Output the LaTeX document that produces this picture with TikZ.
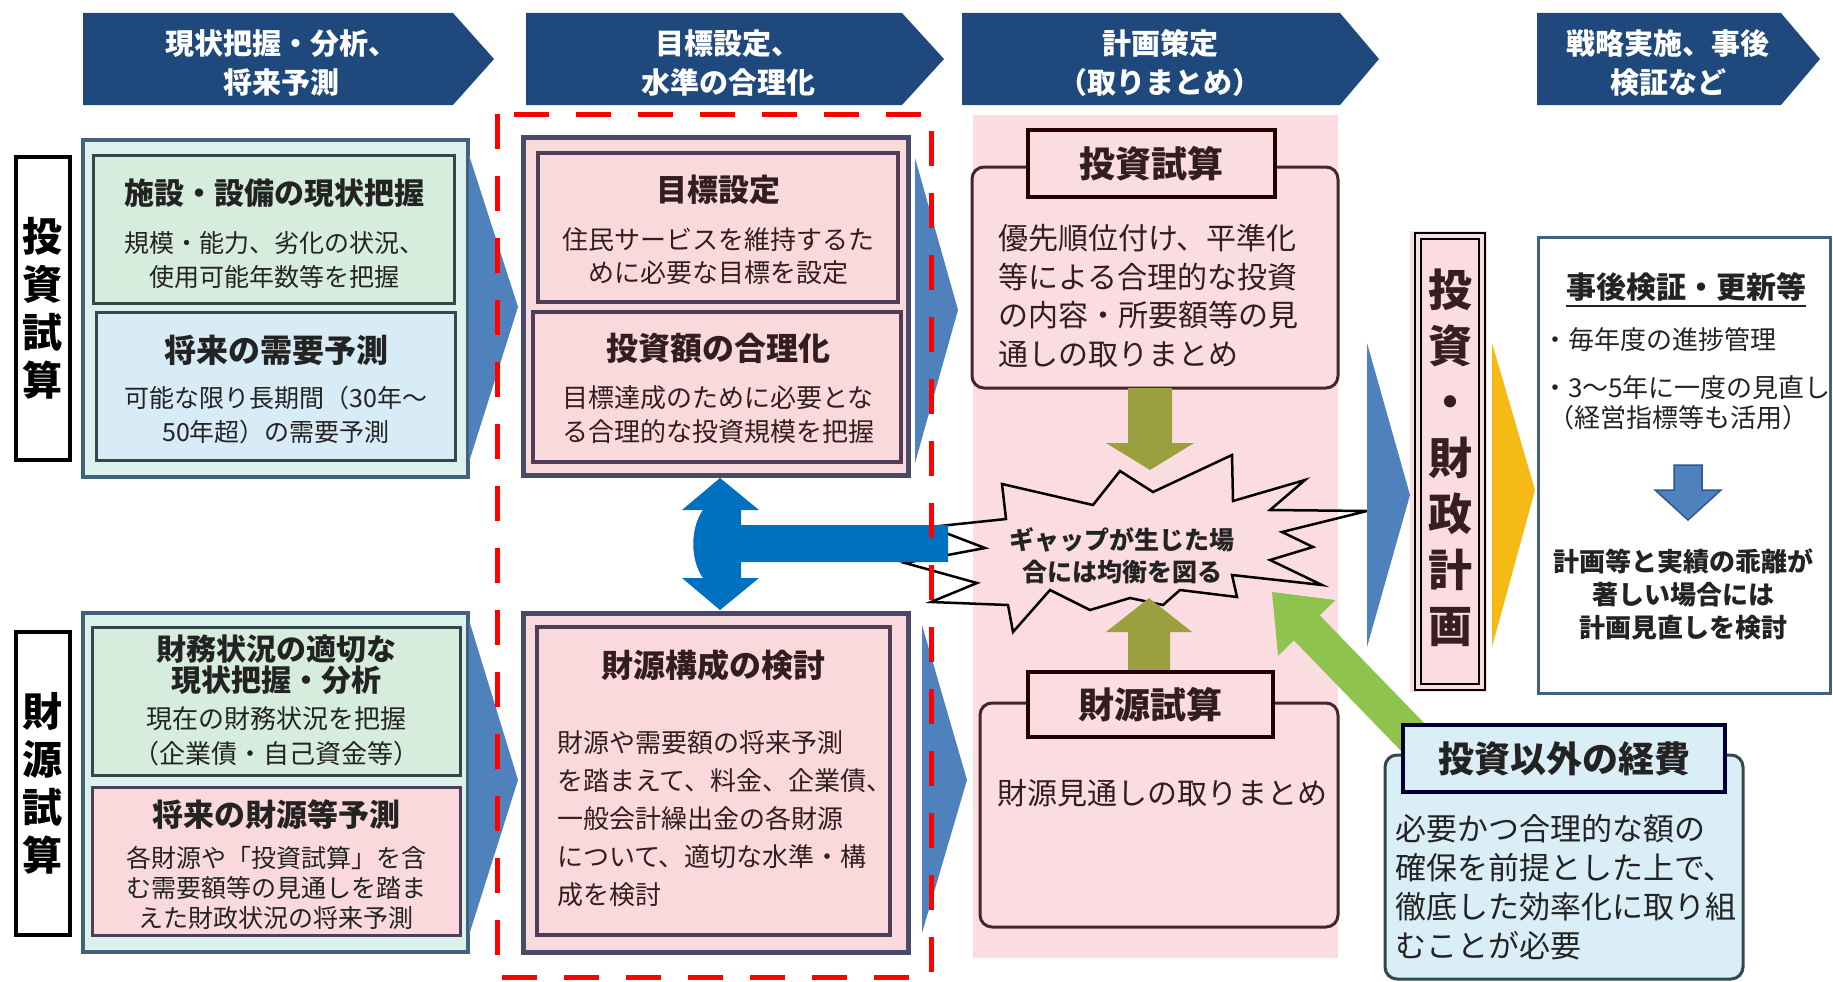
\documentclass[tikz,border=0pt]{standalone}
\usepackage{fontspec}
\setmainfont{Noto Sans CJK JP}
\usetikzlibrary{calc}
\definecolor{navy}{RGB}{31,73,125}
\definecolor{chev}{RGB}{79,129,189}
\definecolor{chevdark}{RGB}{47,85,151}
\definecolor{mint}{RGB}{221,241,236}
\definecolor{greenbox}{RGB}{214,237,222}
\definecolor{bluebox}{RGB}{216,236,247}
\definecolor{pinkbox}{RGB}{250,217,221}
\definecolor{panelpink}{RGB}{251,220,224}
\definecolor{slate}{RGB}{65,98,125}
\definecolor{dkgreen}{RGB}{48,74,76}
\definecolor{plum}{RGB}{78,62,88}
\definecolor{midborder}{RGB}{72,74,104}
\definecolor{maroon}{RGB}{70,38,44}
\definecolor{olive}{RGB}{155,160,62}
\definecolor{lgreen}{RGB}{142,196,78}
\definecolor{gold}{RGB}{246,186,22}
\definecolor{tblue}{RGB}{0,112,192}
\definecolor{lblue}{RGB}{218,238,248}
\definecolor{txtdark}{RGB}{35,35,35}
\definecolor{txtbrown}{RGB}{50,30,30}
\newcommand\fsz[2]{\fontsize{#1}{#2}\selectfont}
\newcommand\blockarrow[6]{%
  \coordinate (ba-base) at ($(#2)!#5!(#1)$);
  \fill[#6] ($(#1)!#3!90:(#2)$) -- ($(ba-base)!#3!90:(#2)$) -- ($(ba-base)!#4!90:(#2)$) -- (#2)
    -- ($(ba-base)!#4!-90:(#2)$) -- ($(ba-base)!#3!-90:(#2)$) -- ($(#1)!#3!-90:(#2)$) -- cycle;}
\tikzset{
  bx/.style={anchor=north west, inner sep=0pt, outer sep=0pt},
  tx/.style={inner sep=0pt, outer sep=0pt, align=center},
  hd/.style={tx, text=white, font=\fsz{29}{39}\bfseries},
}
\begin{document}
\begin{tikzpicture}[x=1pt,y=-1pt]
\useasboundingbox (0,0) rectangle (1833,982);
\fill[white] (0,0) rectangle (1833,982);

% ---------- header chevrons
\fill[navy] (83,13) -- (453,13) -- (494,59) -- (453,105) -- (83,105) -- cycle;
\fill[navy] (526,13) -- (902,13) -- (944,59) -- (902,105) -- (526,105) -- cycle;
\fill[navy] (962,13) -- (1340,13) -- (1379,59) -- (1340,105) -- (962,105) -- cycle;
\fill[navy] (1537,13) -- (1781,13) -- (1820,59) -- (1781,105) -- (1537,105) -- cycle;
\node[hd] (h1) at (281,63) {現状把握・分析、\\将来予測};
\node[hd] (h2) at (728,63) {目標設定、\\水準の合理化};
\node[hd] (h3) at (1160,63) {計画策定\\（取りまとめ）};
\node[hd] (h4) at (1668,63) {戦略実施、事後\\検証など};

% ---------- left labels
\node[bx, draw=black, line width=4.5, fill=white, minimum width=54, minimum height=303] (l1) at (16,157) {};
\node[tx, font=\fsz{40}{48}\bfseries] (l1t) at (l1.center) {投\\資\\試\\算};
\node[bx, draw=black, line width=4.5, fill=white, minimum width=54, minimum height=303] (l2) at (16,632) {};
\node[tx, font=\fsz{40}{48}\bfseries] (l2t) at (l2.center) {財\\源\\試\\算};

% ---------- left top group
\node[bx, draw=slate, line width=3.5, fill=mint, minimum width=385, minimum height=337] (g1) at (83,140) {};
\fill[chev] (469,155) -- (518,307) -- (469,462) -- cycle;
\node[bx, draw=dkgreen, line width=3, fill=greenbox, minimum width=361, minimum height=148] (A) at (93,155) {};
\node[bx, draw=dkgreen, line width=3, fill=bluebox, minimum width=359, minimum height=148] (B) at (96,312) {};
\node[tx, text=txtdark, font=\fsz{30}{36}\bfseries] (At) at (274,193) {施設・設備の現状把握};
\node[tx, text=txtdark, font=\fsz{25}{34}] (Ab) at (274,260) {規模・能力、劣化の状況、\\使用可能年数等を把握};
\node[tx, text=txtdark, font=\fsz{32}{36}\bfseries] (Bt) at (276,350) {将来の需要予測};
\node[tx, text=txtdark, font=\fsz{25}{34}] (Bb) at (276,415) {可能な限り長期間（30年～\\50年超）の需要予測};

% ---------- left bottom group
\node[bx, draw=slate, line width=3.5, fill=mint, minimum width=385, minimum height=339] (g2) at (83,613) {};
\fill[chev] (469,620) -- (518,780) -- (469,935) -- cycle;
\node[bx, draw=dkgreen, line width=3, fill=greenbox, minimum width=368, minimum height=148] (C) at (92,627) {};
\node[bx, draw=plum, line width=3, fill=pinkbox, minimum width=368, minimum height=148] (D) at (92,787) {};
\node[tx, text=txtdark, font=\fsz{30}{31}\bfseries] (Ct) at (276,665) {財務状況の適切な\\現状把握・分析};
\node[tx, text=txtdark, font=\fsz{26}{35}] (Cb) at (276,736) {現在の財務状況を把握\\（企業債・自己資金等）};
\node[tx, text=txtdark, font=\fsz{31}{36}\bfseries] (Dt) at (276,815) {将来の財源等予測};
\node[tx, text=txtdark, font=\fsz{25}{30}] (Db) at (276,888) {各財源や「投資試算」を含\\む需要額等の見通しを踏ま\\えた財政状況の将来予測};

% ---------- middle column
\node[bx, draw=midborder, line width=5, fill=pinkbox, minimum width=385, minimum height=338] (m1) at (523,137) {};
\fill[chev] (915,158) -- (958,310) -- (915,463) -- cycle;
\node[bx, draw=plum, line width=3.5, fill=pinkbox, minimum width=360, minimum height=149] (m1a) at (538,153) {};
\node[bx, draw=plum, line width=3.5, fill=pinkbox, minimum width=368, minimum height=150] (m1b) at (533,312) {};
\node[tx, text=txtbrown, font=\fsz{31}{36}\bfseries] (m1at) at (718,190) {目標設定};
\node[tx, text=txtbrown, font=\fsz{26}{33}] (m1ab) at (718,256) {住民サービスを維持するた\\めに必要な目標を設定};
\node[tx, text=txtbrown, font=\fsz{32}{36}\bfseries] (m1bt) at (718,348) {投資額の合理化};
\node[tx, text=txtbrown, font=\fsz{26}{34}] (m1bb) at (718,415) {目標達成のために必要とな\\る合理的な投資規模を把握};

\node[bx, draw=midborder, line width=5, fill=pinkbox, minimum width=385, minimum height=339] (m2) at (523,613) {};
\fill[chev] (922,625) -- (967,780) -- (922,933) -- cycle;
\node[bx, draw=plum, line width=3.5, fill=pinkbox, minimum width=353, minimum height=308] (m2a) at (537,627) {};
\node[tx, text=txtbrown, font=\fsz{32}{36}\bfseries] (m2t) at (713,665) {財源構成の検討};
\node[tx, anchor=west, align=left, text=txtbrown, font=\fsz{26}{38}] (m2b) at (557,819) {財源や需要額の将来予測\\を踏まえて、料金、企業債、\\一般会計繰出金の各財源\\について、適切な水準・構\\成を検討};

% ---------- plan panel
\node[bx, fill=panelpink, minimum width=365, minimum height=843] (pan) at (973,115) {};
\node[bx, draw=maroon, line width=3, fill=panelpink, rounded corners=12, minimum width=366, minimum height=221] (inv) at (972,167) {};
\node[bx, draw=black!85!red, line width=4, fill=panelpink, minimum width=247, minimum height=67] (invt) at (1028,130) {};
\node[tx, text=txtbrown, font=\fsz{36}{40}\bfseries] (invtt) at (invt.center) {投資試算};
\node[tx, anchor=west, align=left, text=txtbrown, font=\fsz{30}{38.5}] (invb) at (998,296) {優先順位付け、平準化\\等による合理的な投資\\の内容・所要額等の見\\通しの取りまとめ};

\node[bx, draw=maroon, line width=3, fill=panelpink, rounded corners=12, minimum width=358, minimum height=224] (fin) at (980,703) {};
\node[tx, anchor=west, align=left, text=txtbrown, font=\fsz{30}{36}] (finb) at (997,793) {財源見通しの取りまとめ};

% burst
\draw[black, line width=2.5] (1002,484) -- (1093,505) -- (1120,471) -- (1153,492) -- (1232,455) -- (1233,501)
  -- (1305,480) -- (1270,510) -- (1367,511) -- (1282,532) -- (1313,547) -- (1270,560) -- (1322,585)
  -- (1232,575) -- (1237,597) -- (1180,590) -- (1163,605) -- (1130,598) -- (1090,610) -- (1050,590)
  -- (1013,632) -- (1008,605) -- (931,602) -- (977,583) -- (905,563) -- (985,548) -- (930,527)
  -- (1006,519) -- cycle;
\node[tx, text=txtdark, font=\fsz{25}{32}\bfseries] (gap) at (1122,556) {ギャップが生じた場\\合には均衡を図る};

% olive arrows
\coordinate (od1) at (1150,388);
\coordinate (od2) at (1150,470);
\blockarrow{od1}{od2}{22pt}{44pt}{27pt}{olive}
\coordinate (ou1) at (1149,672);
\coordinate (ou2) at (1149,598);
\blockarrow{ou1}{ou2}{21pt}{43pt}{34pt}{olive}

\node[bx, draw=black!85!red, line width=4, fill=panelpink, minimum width=245, minimum height=65] (fint) at (1028,672) {};
\node[tx, text=txtbrown, font=\fsz{36}{40}\bfseries] (fintt) at (fint.center) {財源試算};

% blue T arrow
\fill[tblue] (720,478) -- (759,510) -- (741,510) -- (741,525) -- (948,525) -- (948,562) -- (741,562)
  -- (741,578) -- (759,578) -- (720,610) -- (682,578) -- (703,578) .. controls (690,560) and (690,528) .. (703,510)
  -- (682,510) -- cycle;

% ---------- right side
\fill[chev] (1367,343) -- (1410,495) -- (1367,647) -- cycle;
\fill[panelpink] (1410,231) rectangle (1487,692);
\node[bx, draw=black, line width=2.5, minimum width=70, minimum height=457] (plan) at (1415,233) {};
\node[bx, draw=black, line width=1.5, minimum width=58, minimum height=445] (plani) at (1421,239) {};
\node[tx, text=maroon!80!black, font=\fsz{44}{56}\bfseries] (plant) at (1450,458) {投\\資\\・\\財\\政\\計\\画};
\fill[gold] (1492,343) -- (1535,490) -- (1492,647) -- cycle;

\node[bx, draw=slate, line width=3, fill=white, minimum width=292, minimum height=456] (post) at (1538,237) {};
\node[tx, text=txtdark, font=\fsz{30}{36}\bfseries] (postt) at (1686,287) {事後検証・更新等};
\draw[txtdark, line width=2] ([yshift=-5pt]postt.south west) -- ([yshift=-5pt]postt.south east);
\node[tx, anchor=west, text=txtdark, font=\fsz{26}{32}] (post1) at (1542,340) {・毎年度の進捗管理};
\node[tx, anchor=west, text=txtdark, font=\fsz{26}{32}] (post2) at (1542,388) {・3～5年に一度の見直し};
\node[tx, text=txtdark, font=\fsz{26}{32}] (post3) at (1678,418) {（経営指標等も活用）};
\coordinate (pd1) at (1688,465);
\coordinate (pd2) at (1688,520);
\blockarrow{pd1}{pd2}{14pt}{33pt}{30pt}{fill=chev, draw=chevdark, line width=1.5}
\node[tx, text=txtdark, font=\fsz{26}{33}\bfseries] (post4) at (1683,594) {計画等と実績の乖離が\\著しい場合には\\計画見直しを検討};

% light green diagonal arrow
\coordinate (lg1) at (1432,757);
\coordinate (lg2) at (1272,592);
\blockarrow{lg1}{lg2}{18pt}{40pt}{50pt}{lgreen}

\node[bx, draw=dkgreen, line width=3, fill=lblue, rounded corners=12, minimum width=358, minimum height=224] (oth) at (1385,755) {};
\node[bx, draw=black!80!blue, line width=4, fill=lblue, minimum width=322, minimum height=67] (otht) at (1403,725) {};
\node[tx, text=txtdark, font=\fsz{36}{40}\bfseries] (othtt) at (otht.center) {投資以外の経費};
\node[tx, anchor=west, align=left, text=txtdark, font=\fsz{31}{39}] (othb) at (1395,887) {必要かつ合理的な額の\\確保を前提とした上で、\\徹底した効率化に取り組\\むことが必要};

% ---------- red dashed frame
\draw[red, line width=5, dash pattern=on 35pt off 27pt] (497,114) rectangle (931,977);
\end{tikzpicture}
\end{document}
